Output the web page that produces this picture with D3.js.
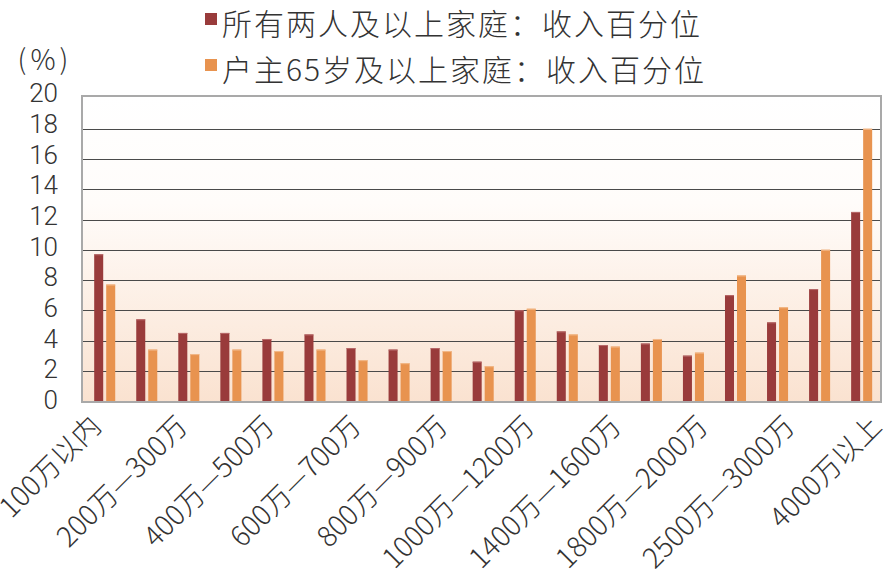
<!DOCTYPE html>
<html>
<head>
<meta charset="utf-8">
<script src="https://cdn.jsdelivr.net/npm/d3@7/dist/d3.min.js"></script>
<style>
  html, body { margin: 0; padding: 0; background: #ffffff; }
  svg { display: block; }
  text { font-family: "Noto Sans CJK SC", "Noto Sans", sans-serif; font-weight: 300; fill: #333333; }
</style>
</head>
<body>
<svg id="chart" width="887" height="581"></svg>
<script>
// ---- data ----
const categories = [
  "100万以内", "100万—200万", "200万—300万", "300万—400万", "400万—500万",
  "500万—600万", "600万—700万", "700万—800万", "800万—900万", "900万—1000万",
  "1000万—1200万", "1200万—1400万", "1400万—1600万", "1600万—1800万", "1800万—2000万",
  "2000万—2500万", "2500万—3000万", "3000万—4000万", "4000万以上"
];
const seriesNames = ["所有两人及以上家庭：收入百分位", "户主65岁及以上家庭：收入百分位"];
const allHouseholds = [9.7, 5.4, 4.5, 4.5, 4.1, 4.4, 3.5, 3.4, 3.5, 2.6, 6.0, 4.6, 3.7, 3.8, 3.0, 7.0, 5.2, 7.4, 12.5];
const elderlyHouseholds = [7.7, 3.4, 3.1, 3.4, 3.3, 3.4, 2.7, 2.5, 3.3, 2.3, 6.1, 4.4, 3.6, 4.1, 3.2, 8.3, 6.2, 10.0, 18.0];
const yTicks = [0, 2, 4, 6, 8, 10, 12, 14, 16, 18, 20];
const xLabelCats = categories.filter((d, i) => i % 2 === 0);
const colors = ["#993b3b", "#e8934f"];

// ---- layout ----
const svg = d3.select("#chart");
const pLeft = 82, pRight = 881, pTop = 96, pBottom = 402;

const x = d3.scaleBand().domain(categories).range([pLeft, pRight])
  .paddingInner(0.5).paddingOuter(0.25).align(0.58);
const xSub = d3.scaleBand().domain([0, 1]).range([0, x.bandwidth()]).paddingInner(0.25);
const y = d3.scaleLinear().domain([0, 20]).range([401, 98.5]);
const yLabel = d3.scaleLinear().domain([0, 20]).range([399, 92.5]);
const xLabel = d3.scaleBand().domain(categories).range([81, 905]);

// background gradient
const defs = svg.append("defs");
const grad = defs.append("linearGradient").attr("id", "bg")
  .attr("x1", 0).attr("y1", 0).attr("x2", 0).attr("y2", 1);
grad.append("stop").attr("offset", "0%").attr("stop-color", "#ffffff");
grad.append("stop").attr("offset", "35%").attr("stop-color", "#fffcfa");
grad.append("stop").attr("offset", "100%").attr("stop-color", "#fae2d0");

svg.append("rect")
  .attr("x", pLeft).attr("y", pTop).attr("width", pRight - pLeft).attr("height", pBottom - pTop)
  .attr("fill", "url(#bg)");

// gridlines
svg.append("g").selectAll("line")
  .data(yTicks.filter(d => d > 0 && d < 20))
  .join("line")
  .attr("x1", pLeft).attr("x2", pRight)
  .attr("y1", d => Math.round(y(d)) + 0.5).attr("y2", d => Math.round(y(d)) + 0.5)
  .attr("stroke", "#4a4a4a").attr("stroke-width", 1.2);

// bars
const series = [allHouseholds, elderlyHouseholds];
series.forEach((vals, si) => {
  const rows = categories.map((c, i) => ({ c, v: vals[i] }));
  svg.append("g").selectAll("rect")
    .data(rows)
    .join("rect")
    .attr("x", d => x(d.c) + xSub(si))
    .attr("width", xSub.bandwidth())
    .attr("y", d => y(d.v))
    .attr("height", d => y(0) - y(d.v) + 1)
    .attr("fill", colors[si]);
  svg.append("g").selectAll("line")
    .data(rows)
    .join("line")
    .attr("x1", d => x(d.c) + xSub(si))
    .attr("x2", d => x(d.c) + xSub(si) + xSub.bandwidth())
    .attr("y1", d => y(d.v) + 0.5).attr("y2", d => y(d.v) + 0.5)
    .attr("stroke", si === 0 ? "#b86a6a" : "#f2b98a").attr("stroke-width", 1);
});

// frame
svg.append("rect")
  .attr("x", pLeft).attr("y", pTop).attr("width", pRight - pLeft).attr("height", pBottom - pTop)
  .attr("fill", "none").attr("stroke", "#a9a9a9").attr("stroke-width", 2);

// y axis labels
const yAxis = d3.axisLeft(yLabel).tickValues(yTicks).tickSize(0).tickPadding(0);
const gy = svg.append("g").attr("transform", "translate(58,0)").call(yAxis);
gy.select(".domain").remove();
gy.selectAll("text")
  .attr("font-size", 26).attr("fill", "#333").attr("dy", "0.36em")
  .style("font-family", 'Roboto, "Noto Sans", sans-serif').style("font-weight", 300);

// unit label
svg.append("text").attr("x", 45).attr("y", 70).attr("text-anchor", "middle")
  .attr("font-size", 28).attr("letter-spacing", 4).text("(%)");

// x axis labels
const xAxis = d3.axisBottom(xLabel).tickValues(xLabelCats).tickSize(0).tickPadding(0);
const gx = svg.append("g").attr("transform", "translate(0,401)").call(xAxis);
gx.select(".domain").remove();
gx.selectAll("text")
  .attr("font-size", 28).attr("fill", "#333")
  .attr("text-anchor", "end").attr("y", 0).attr("dy", 0)
  .attr("transform", "translate(0,27) rotate(-45)")
  .style("font-family", '"Noto Sans CJK SC", "Noto Sans", sans-serif').style("font-weight", 300);

// legend
const legend = svg.append("g");
const legendY = [35, 81];
seriesNames.forEach((name, i) => {
  legend.append("rect").attr("x", 205).attr("y", legendY[i] - 22).attr("width", 12).attr("height", 12)
    .attr("fill", colors[i]);
  legend.append("text").attr("x", 222).attr("y", legendY[i])
    .attr("font-size", 30).attr("letter-spacing", 2).text(name);
});
</script>
</body>
</html>
